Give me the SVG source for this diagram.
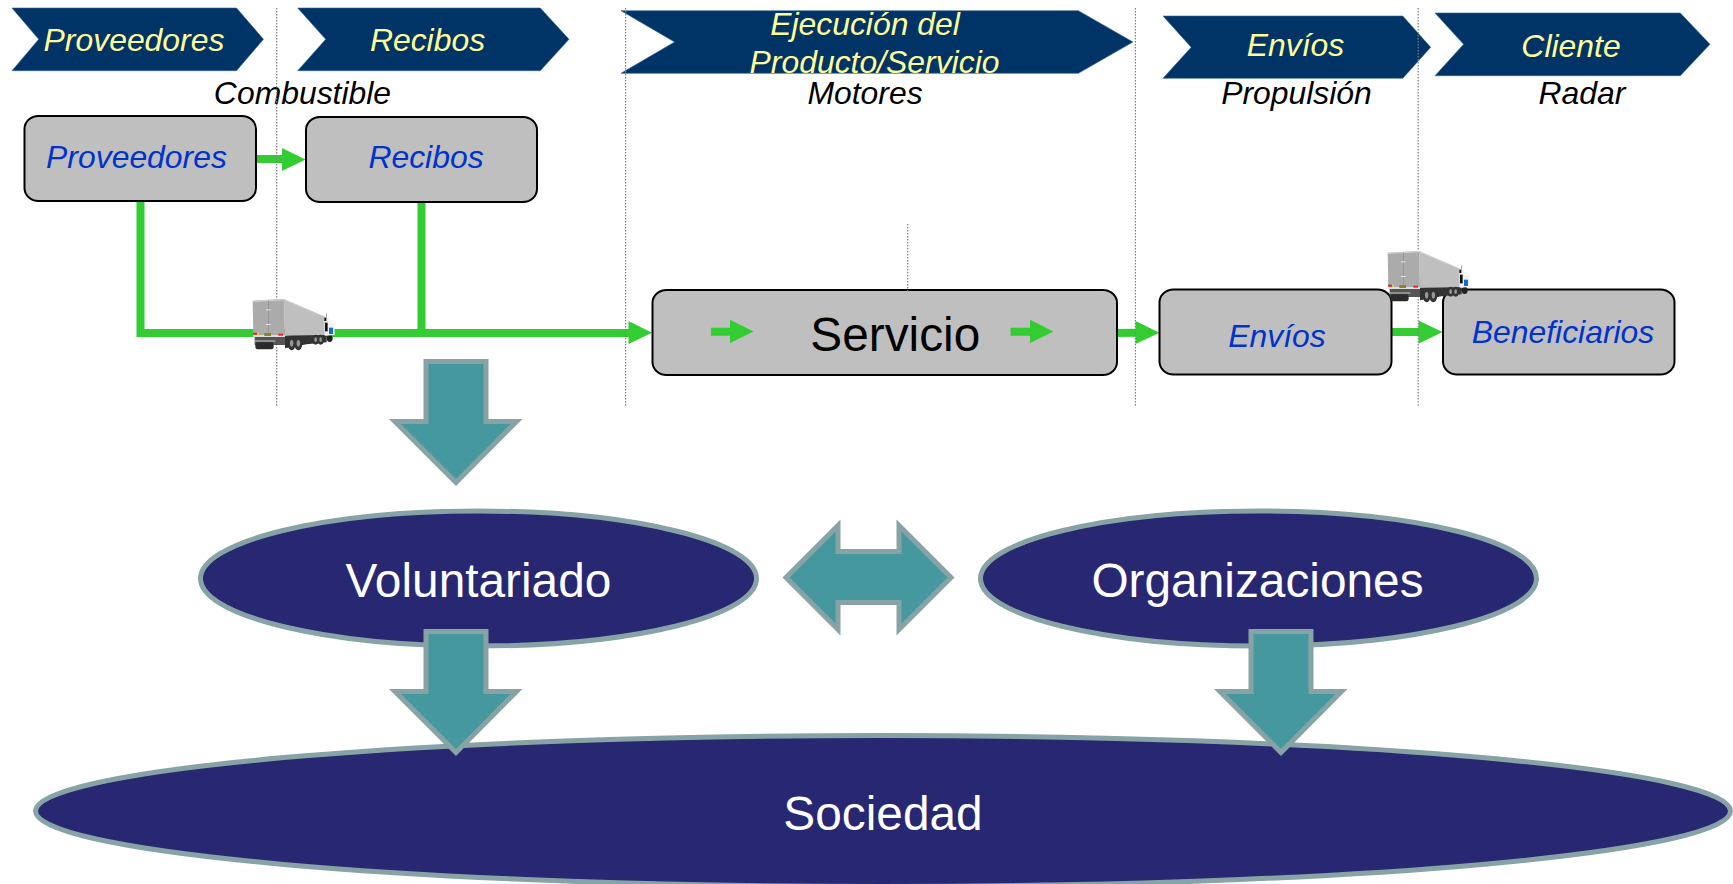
<svg xmlns="http://www.w3.org/2000/svg" width="1733" height="884" viewBox="0 0 1733 884">
<style>
text{font-family:"Liberation Sans",Arial,sans-serif;text-anchor:middle}
.chev{fill:#003366;stroke:#336699;stroke-width:.6}
.ct{fill:#ffff99;font-size:31.9px;font-style:italic}
.lab{fill:#000;font-size:31.9px;font-style:italic}
.box{fill:#bfbfbf;stroke:#000;stroke-width:2}
.bt{fill:#0033cc;font-size:31.9px;font-style:italic}
.bk{fill:#000;font-size:47.8px}
.wt{fill:#fff;font-size:47.8px}
.ell{fill:#272772;stroke:#87a3a5;stroke-width:5}
.big{fill:#46989f;stroke:#87a3a5;stroke-width:5;stroke-linejoin:miter;stroke-miterlimit:10}
.grn{fill:#33cc33}
.guide{stroke:#808080;stroke-width:1.2;stroke-dasharray:1.5 1.5;fill:none}
</style>
<defs>
<g id="truck" transform="translate(230 285) scale(.33333)">
<polygon points="162,42 285,95 288,150 165,152" fill="#bfbfbf"/>
<polygon points="68,47 162,42 165,152 70,150" fill="#ababab"/>
<polygon points="68,47 162,42 285,95 284,97 162,46 70,51" fill="#d0d0d0"/>
<rect x="114" y="46" width="2" height="104" fill="#8e8e8e"/>
<rect x="108" y="73" width="14" height="3" fill="#e6e6e6"/>
<rect x="108" y="117" width="14" height="3" fill="#e6e6e6"/>
<rect x="74" y="156" width="95" height="24" fill="#555"/>
<rect x="76" y="172" width="55" height="21" rx="7" fill="#2b2b2b"/>
<rect x="70" y="150" width="100" height="6" fill="#dddddd"/>
<rect x="69" y="143" width="12" height="6" fill="#ee2222"/>
<rect x="81" y="143" width="6" height="6" fill="#eecc22"/>
<rect x="145" y="146" width="14" height="6" fill="#ee2222"/>
<rect x="103" y="144" width="20" height="9" fill="#888822"/>
<rect x="74" y="166" width="62" height="4" fill="#aaa"/>
<polygon points="165,152 290,150 290,172 230,178 165,190" fill="#333"/>
<ellipse cx="185" cy="175" rx="12" ry="21" fill="#333"/>
<ellipse cx="205" cy="175" rx="12" ry="21" fill="#333"/>
<ellipse cx="185" cy="175" rx="5" ry="10" fill="#999"/>
<ellipse cx="205" cy="175" rx="5" ry="10" fill="#999"/>
<ellipse cx="257" cy="164" rx="10" ry="15" fill="#333"/>
<ellipse cx="272" cy="164" rx="10" ry="15" fill="#333"/>
<ellipse cx="257" cy="164" rx="4" ry="7" fill="#999"/>
<ellipse cx="272" cy="164" rx="4" ry="7" fill="#999"/>
<ellipse cx="299" cy="160" rx="9" ry="11" fill="#222"/>
<polygon points="283,98 296,97 300,113 313,115 314,150 284,152" fill="#f2f2f2"/>
<rect x="285" y="113" width="8" height="26" fill="#111"/>
<rect x="283" y="98" width="6" height="10" fill="#111"/>
<rect x="297" y="128" width="12" height="19" fill="#0f6fd0"/>
<rect x="289" y="86" width="2" height="12" fill="#777"/>
</g>
</defs>
<g id="connectors">
<g id="conn-green">
<path class="grn" d="M256,155H282V148L305.500,159.500L282,171V163H256Z"/>
<path class="grn" d="M136.500,201H144.500V329H417.500V202H425.500V329H628.500V321L652,332.800L628.500,344V337H136.500Z"/>
<path class="grn" d="M1117,329L1135.500,328.800V321L1159.500,332.700L1135.500,344V336.800L1117,337Z"/>
<path class="grn" d="M1391,328H1418.500V320.500L1442.500,332L1418.500,343.700V336H1391Z"/>
</g>
</g>
<g id="node-chev-proveedores"><polygon class="chev" points="12,8 236.500,8 263.500,39.300 236.500,70.700 12,70.700 38.700,39.300"/><text class="ct" x="134" y="51">Proveedores</text></g>
<g id="node-chev-recibos"><polygon class="chev" points="297.700,8 540.300,8 569,39.300 540.300,70.700 297.700,70.700 325.700,39.300"/><text class="ct" x="427.500" y="51">Recibos</text></g>
<g id="node-chev-ejecucion"><polygon class="chev" points="621,10.700 1078.400,10.700 1133,42 1078.400,73.300 621,73.300 674.600,42"/><text class="ct" x="865" y="35">Ejecución del</text><text class="ct" x="874.500" y="72.500">Producto/Servicio</text></g>
<g id="node-chev-envios"><polygon class="chev" points="1163,16 1402.800,16 1430.700,47.300 1402.800,78.300 1163,78.300 1191.200,47.300"/><text class="ct" x="1295.500" y="55.800">Envíos</text></g>
<g id="node-chev-cliente"><polygon class="chev" points="1435,13 1680.300,13 1710,44.300 1680.300,75.700 1435,75.700 1463.600,44.300"/><text class="ct" x="1571" y="57">Cliente</text></g>
<g id="labels">
<text class="lab" x="302.500" y="104">Combustible</text>
<text class="lab" x="865" y="104">Motores</text>
<text class="lab" x="1296.500" y="104">Propulsión</text>
<text class="lab" x="1582" y="104">Radar</text>
</g>
<g id="node-proveedores"><rect class="box" x="24.500" y="116" width="231.500" height="85" rx="14" ry="13"/><text class="bt" x="136.500" y="168">Proveedores</text></g>
<g id="node-recibos"><rect class="box" x="306" y="117" width="231" height="85" rx="14" ry="13"/><text class="bt" x="426" y="168">Recibos</text></g>
<g id="node-servicio"><rect class="box" x="652.500" y="290" width="464.500" height="85" rx="14" ry="13"/><text class="bk" x="895.300" y="350.500">Servicio</text>
<path class="grn" d="M711,327.700H730V319.700L753.500,331.500L730,343V335.700H711Z"/>
<path class="grn" d="M1010.600,327.700H1030V319.700L1053.500,331.500L1030,343V335.700H1010.600Z"/></g>
<g id="node-envios"><rect class="box" x="1159.500" y="289.500" width="232" height="85" rx="14" ry="13"/><text class="bt" x="1277" y="347">Envíos</text></g>
<g id="node-beneficiarios"><rect class="box" x="1443" y="289.500" width="231.500" height="85" rx="14" ry="13"/><text class="bt" x="1563" y="343">Beneficiarios</text></g>
<g id="guides">
<line class="guide" x1="276.700" y1="8" x2="276.700" y2="406"/>
<line class="guide" x1="625.600" y1="8" x2="625.600" y2="406"/>
<line class="guide" x1="1135.400" y1="8" x2="1135.400" y2="406"/>
<line class="guide" x1="1418.200" y1="8" x2="1418.200" y2="406"/>
<line class="guide" x1="907.700" y1="224" x2="907.700" y2="293"/>
</g>
<g id="node-truck-1"><use href="#truck"/></g>
<g id="node-truck-2"><use href="#truck" transform="translate(1135 -48)"/></g>
<g id="node-sociedad"><ellipse class="ell" cx="883" cy="811" rx="847.500" ry="75.500"/><text class="wt" x="883" y="829.500">Sociedad</text></g>
<g id="node-voluntariado"><ellipse class="ell" cx="478.500" cy="578.500" rx="278" ry="67.500"/><text class="wt" x="478.500" y="596.500">Voluntariado</text></g>
<g id="node-organizaciones"><ellipse class="ell" cx="1258.500" cy="578.500" rx="278" ry="67.500"/><text class="wt" x="1257.500" y="596.500">Organizaciones</text></g>
<g id="big-arrows">
<path id="arrow-down-1" class="big" d="M426,361.500H486V421.500H516.500L456,482.500L395,421.500H426Z"/>
<path id="arrow-down-2" class="big" d="M426,631.500H486V691.500H516.500L456,752.500L395,691.500H426Z"/>
<path id="arrow-down-3" class="big" d="M1251,631.500H1311V691.500H1341.500L1281,752.500L1220,691.500H1251Z"/>
<path id="arrow-both" class="big" d="M786,577.500L838,525.500V551.500H899V525.500L951,577.500L899,629.500V602.500H838V629.500Z"/>
</g>
</svg>
